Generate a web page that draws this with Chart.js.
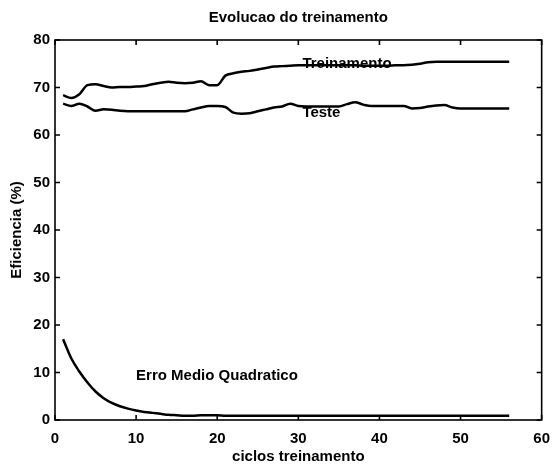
<!DOCTYPE html>
<html>
<head>
<meta charset="utf-8">
<script src="https://cdn.jsdelivr.net/npm/chart.js@4/dist/chart.umd.min.js"></script>
<style>
  html, body { margin: 0; padding: 0; background: #fff; }
  #wrap { width: 560px; height: 467px; }
</style>
</head>
<body>
<div id="wrap"><canvas id="myChart" width="560" height="467"></canvas></div>
<script>
const ciclos = [];
for (let i = 1; i <= 56; i++) ciclos.push(i);

const treinamento = [
  68.4, 67.8, 68.6, 70.5, 70.7, 70.3, 70.0, 70.1, 70.1, 70.2,
  70.3, 70.7, 71.0, 71.2, 71.0, 70.9, 71.0, 71.3, 70.5, 70.5,
  72.5, 73.0, 73.3, 73.5, 73.8, 74.1, 74.4, 74.5, 74.6, 74.7,
  74.7, 74.7, 74.7, 74.7, 74.7, 74.7, 74.7, 74.6, 74.6, 74.6,
  74.6, 74.7, 74.7, 74.8, 75.0, 75.3, 75.4, 75.4, 75.4, 75.4,
  75.4, 75.4, 75.4, 75.4, 75.4, 75.4
];

const teste = [
  66.6, 66.1, 66.6, 66.0, 65.1, 65.4, 65.3, 65.1, 65.0, 65.0,
  65.0, 65.0, 65.0, 65.0, 65.0, 65.0, 65.4, 65.8, 66.1, 66.1,
  65.9, 64.7, 64.5, 64.6, 65.0, 65.4, 65.8, 66.0, 66.6, 66.1,
  66.0, 66.0, 66.0, 66.0, 66.0, 66.5, 66.9, 66.4, 66.1, 66.1,
  66.1, 66.1, 66.1, 65.6, 65.7, 66.0, 66.2, 66.3, 65.8, 65.6,
  65.6, 65.6, 65.6, 65.6, 65.6, 65.6
];

const erro = [
  17.0, 13.0, 10.2, 7.9, 6.0, 4.6, 3.6, 2.9, 2.4, 2.0,
  1.7, 1.5, 1.3, 1.1, 1.0, 0.9, 0.9, 1.0, 1.0, 1.0,
  0.9, 0.9, 0.9, 0.9, 0.9, 0.9, 0.9, 0.9, 0.9, 0.9,
  0.9, 0.9, 0.9, 0.9, 0.9, 0.9, 0.9, 0.9, 0.9, 0.9,
  0.9, 0.9, 0.9, 0.9, 0.9, 0.9, 0.9, 0.9, 0.9, 0.9,
  0.9, 0.9, 0.9, 0.9, 0.9, 0.9
];

const titulo = 'Evolucao do treinamento';

// text labels placed in data coordinates, like matlab's text()
const rotulos = [
  { texto: 'Treinamento', x: 30.5, y: 75.0 },
  { texto: 'Teste', x: 30.5, y: 64.6 },
  { texto: 'Erro Medio Quadratico', x: 10.0, y: 9.3 }
];

const xTicks = [0, 10, 20, 30, 40, 50, 60];
const yTicks = [0, 10, 20, 30, 40, 50, 60, 70, 80];

const fonte = { family: 'Arial, "Liberation Sans", Helvetica, sans-serif', size: 15, weight: 'bold' };
const fonteCss = `${fonte.weight} ${fonte.size}px ${fonte.family}`;

const toPoints = vals => vals.map((v, i) => ({ x: ciclos[i], y: v }));

const serie = (label, vals) => ({
  label: label,
  data: toPoints(vals),
  borderColor: '#000',
  borderWidth: 2.5,
  pointRadius: 0,
  cubicInterpolationMode: 'monotone',
  fill: false
});

// box around the plot with inward tick marks on all four sides,
// title centred over the axes and the in-plot labels
const caixa = {
  id: 'caixa',
  afterDraw(chart) {
    const { ctx, chartArea: a, scales } = chart;
    const len = 5;
    ctx.save();
    ctx.strokeStyle = '#000';
    ctx.lineWidth = 1.6;
    ctx.strokeRect(a.left, a.top, a.right - a.left, a.bottom - a.top);
    ctx.beginPath();
    xTicks.forEach(t => {
      const px = scales.x.getPixelForValue(t);
      ctx.moveTo(px, a.bottom); ctx.lineTo(px, a.bottom - len);
      ctx.moveTo(px, a.top); ctx.lineTo(px, a.top + len);
    });
    yTicks.forEach(t => {
      const py = scales.y.getPixelForValue(t);
      ctx.moveTo(a.left, py); ctx.lineTo(a.left + len, py);
      ctx.moveTo(a.right, py); ctx.lineTo(a.right - len, py);
    });
    ctx.stroke();

    ctx.fillStyle = '#000';
    ctx.font = fonteCss;
    ctx.textAlign = 'center';
    ctx.textBaseline = 'middle';
    ctx.fillText(titulo, (a.left + a.right) / 2, a.top - 22);
    ctx.restore();
  },
  afterDatasetsDraw(chart) {
    const { ctx, scales } = chart;
    ctx.save();
    ctx.fillStyle = '#000';
    ctx.font = fonteCss;
    ctx.textAlign = 'left';
    ctx.textBaseline = 'middle';
    rotulos.forEach(r => {
      ctx.fillText(r.texto, scales.x.getPixelForValue(r.x), scales.y.getPixelForValue(r.y));
    });
    ctx.restore();
  }
};

const ctx = document.getElementById('myChart').getContext('2d');
const chart = new Chart(ctx, {
  type: 'line',
  data: {
    datasets: [
      serie('Treinamento', treinamento),
      serie('Teste', teste),
      serie('Erro Medio Quadratico', erro)
    ]
  },
  options: {
    responsive: false,
    animation: false,
    layout: { padding: { left: 0, right: 13, top: 40, bottom: 0 } },
    plugins: {
      legend: { display: false },
      tooltip: { enabled: false },
      title: { display: false }
    },
    scales: {
      x: {
        type: 'linear',
        min: 0,
        max: 60,
        afterBuildTicks: scale => { scale.ticks = xTicks.map(v => ({ value: v })); },
        afterFit: scale => { scale.height = 47; },
        grid: { display: false, drawTicks: false },
        border: { display: false },
        ticks: { color: '#000', font: fonte, padding: 10, maxRotation: 0 },
        title: {
          display: true,
          text: 'ciclos treinamento',
          color: '#000',
          font: fonte,
          padding: { top: 0, bottom: 1 }
        }
      },
      y: {
        min: 0,
        max: 80,
        afterBuildTicks: scale => { scale.ticks = yTicks.map(v => ({ value: v })); },
        afterFit: scale => { scale.width = 55; },
        grid: { display: false, drawTicks: false },
        border: { display: false },
        ticks: { color: '#000', font: fonte, padding: 5 },
        title: {
          display: true,
          text: 'Eficiencia (%)',
          color: '#000',
          font: fonte,
          padding: { top: 8, bottom: 0 }
        }
      }
    }
  },
  plugins: [caixa]
});
</script>
</body>
</html>
